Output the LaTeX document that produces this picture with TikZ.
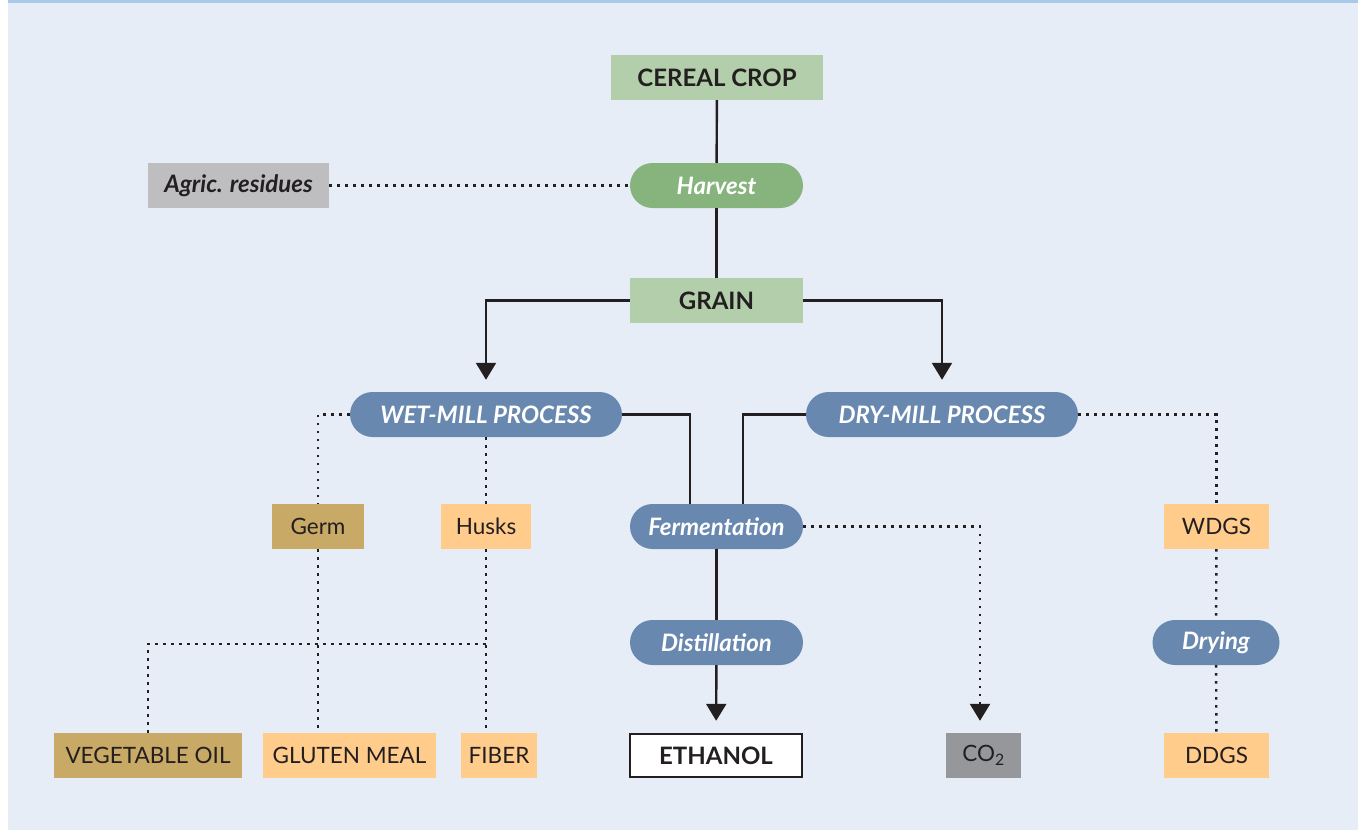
\documentclass[tikz,border=0pt]{standalone}
\usepackage{fontspec}
\setmainfont{Lato}
\usetikzlibrary{arrows.meta}
\definecolor{bg}{HTML}{E6EDF7}
\definecolor{topbar}{HTML}{A9C9EA}
\definecolor{lgreen}{HTML}{B2CEAA}
\definecolor{hgreen}{HTML}{87B47D}
\definecolor{pblue}{HTML}{6888B0}
\definecolor{lgray}{HTML}{BEBEC0}
\definecolor{dgray}{HTML}{96979A}
\definecolor{gold}{HTML}{C8AA66}
\definecolor{peach}{HTML}{FFCC8C}
\definecolor{ink}{HTML}{231F20}
\tikzset{
  box/.style={rectangle, inner sep=0pt, minimum height=45pt, text=ink,
    font=\fontsize{22.5}{22.5}\selectfont},
  boldbox/.style={box, font=\fontsize{24}{24}\selectfont\bfseries},
  pill/.style={box, rounded corners=22.5pt, fill=pblue, text=white,
    font=\fontsize{24}{24}\selectfont\bfseries\itshape},
  solidline/.style={draw=ink, line width=2.4pt},
  arr/.style={solidline, -{Triangle[width=20pt,length=17pt]}},
  dotline/.style={draw=ink, line width=2.4pt, dash pattern=on 2.4pt off 5.6pt},
  dotarr/.style={dotline, -{Triangle[width=20pt,length=17pt]}}
}
\begin{document}
\begin{tikzpicture}[x=1pt,y=-1pt]
\useasboundingbox (0,0) rectangle (1358,830);
\fill[bg] (8,0) rectangle (1358,830);
\fill[topbar] (8,0) rectangle (1358,3);

\node[boldbox, fill=lgreen, minimum width=212pt] (crop) at (717,77.5) {CEREAL CROP};
\node[pill, fill=hgreen, minimum width=173pt] (harvest) at (716.5,185.5) {Harvest};
\node[box, fill=lgray, minimum width=181pt, font=\fontsize{24}{24}\selectfont\bfseries\itshape] (agric) at (238.5,185.5) {Agric. residues};
\node[boldbox, fill=lgreen, minimum width=173pt] (grain) at (716.5,300.5) {GRAIN};
\node[pill, minimum width=272pt] (wet) at (486,414.5) {WET-MILL PROCESS};
\node[pill, minimum width=272pt] (dry) at (942,414.5) {DRY-MILL PROCESS};
\node[box, fill=gold, minimum width=92pt] (germ) at (318,526.5) {Germ};
\node[box, fill=peach, minimum width=90pt] (husks) at (486,526.5) {Husks};
\node[pill, minimum width=173pt] (ferm) at (716.5,526.5) {Fermentation};
\node[box, fill=peach, minimum width=105pt] (wdgs) at (1216.5,526.5) {WDGS};
\node[pill, minimum width=173pt] (dist) at (716.5,642.5) {Distillation};
\node[pill, minimum width=127pt] (drying) at (1216,642.5) {Drying};
\node[box, fill=gold, minimum width=188pt] (oil) at (148,755.5) {VEGETABLE OIL};
\node[box, fill=peach, minimum width=173pt] (gluten) at (349.5,755.5) {GLUTEN MEAL};
\node[box, fill=peach, minimum width=76pt] (fiber) at (499,755.5) {FIBER};
\node[boldbox, fill=white, draw=ink, line width=2.4pt, minimum width=172pt, minimum height=43pt] (eth) at (716,755.5) {ETHANOL};
\node[box, fill=dgray, minimum width=75pt] (co2) at (983.5,755.5) {CO\textsubscript{2}};
\node[box, fill=peach, minimum width=105pt] (ddgs) at (1216.5,755.5) {DDGS};

\coordinate (hj) at (0,644);

% solid connectors
\draw[solidline] (crop) -- (harvest);
\draw[solidline] (harvest) -- (grain);
\draw[arr, shorten >=12pt] (grain.west) -| (wet.north);
\draw[arr, shorten >=12pt] (grain.east) -| (dry.north);
\draw[solidline] (wet.east) -| ([xshift=-26.5pt]ferm.north);
\draw[solidline] (dry.west) -| ([xshift=26.5pt]ferm.north);
\draw[solidline] (ferm) -- (dist);
\draw[arr, shorten >=12pt] (dist) -- (eth);

% dotted connectors
\draw[dotline] (agric) -- (harvest);
\draw[dotline] (wet.west) -| (germ.north);
\draw[dotline] (wet.south) -- (husks.north);
\draw[dotline] (germ.south) -- (germ.south |- gluten.north);
\draw[dotline] (husks.south) -- (husks.south |- fiber.north);
\draw[dotline] (oil.north) -- (oil.north |- hj) -- (husks.south |- hj);
\draw[dotarr, shorten >=12pt] (ferm.east) -| ([xshift=-3.5pt]co2.north);
\draw[dotline] (dry.east) -| (wdgs.north);
\draw[dotline] (wdgs) -- (drying);
\draw[dotline] (drying) -- (ddgs);
\end{tikzpicture}
\end{document}
